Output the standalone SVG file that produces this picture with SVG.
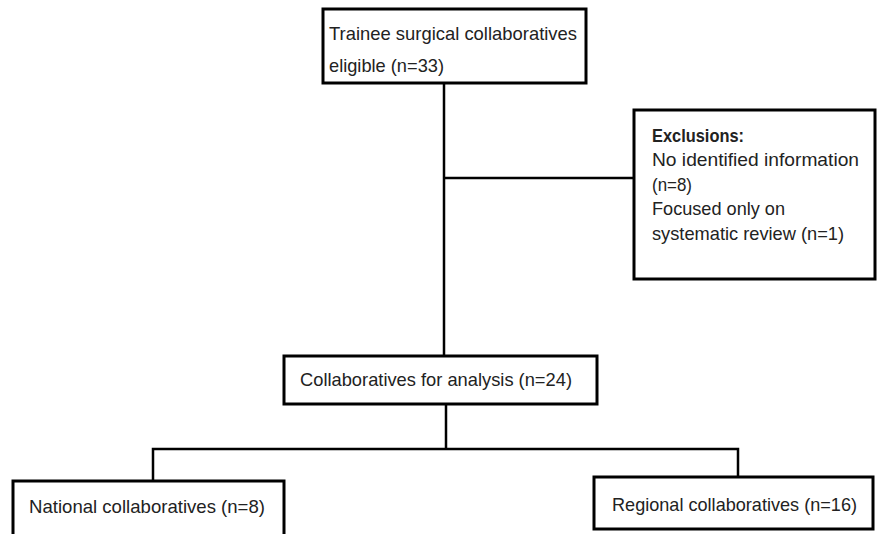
<svg xmlns="http://www.w3.org/2000/svg" width="880" height="534" viewBox="0 0 880 534">
<style>
.box{fill:#fff;stroke:#000;stroke-width:3}
.ln{fill:none;stroke:#000;stroke-width:2.5}
text{font-family:"Liberation Sans",Arial,sans-serif;font-size:19px;fill:#222}
.b{font-weight:bold;font-size:18px}
</style>
<rect width="880" height="534" fill="#fff"/>
<g id="connectors">
<line class="ln" x1="444" y1="83" x2="444" y2="356"/>
<line class="ln" x1="444" y1="178" x2="634" y2="178"/>
<line class="ln" x1="446" y1="404" x2="446" y2="449"/>
<polyline class="ln" points="153,481 153,449 738,449 738,477"/>
</g>
<g id="n1">
<rect class="box" x="323" y="9" width="263" height="74"/>
<text x="329" y="40" textLength="248" lengthAdjust="spacingAndGlyphs">Trainee surgical collaboratives</text>
<text x="329" y="72" textLength="115" lengthAdjust="spacingAndGlyphs">eligible (n=33)</text>
</g>
<g id="n2">
<rect class="box" x="634" y="110" width="241" height="169"/>
<text x="652" y="142" class="b" textLength="92" lengthAdjust="spacingAndGlyphs">Exclusions:</text>
<text x="652" y="166" textLength="207" lengthAdjust="spacingAndGlyphs">No identified information</text>
<text x="652" y="191" textLength="40" lengthAdjust="spacingAndGlyphs">(n=8)</text>
<text x="652" y="215" textLength="133" lengthAdjust="spacingAndGlyphs">Focused only on</text>
<text x="652" y="240" textLength="192" lengthAdjust="spacingAndGlyphs">systematic review (n=1)</text>
</g>
<g id="n3">
<rect class="box" x="284" y="356" width="313" height="48"/>
<text x="300" y="386" textLength="272" lengthAdjust="spacingAndGlyphs">Collaboratives for analysis (n=24)</text>
</g>
<g id="n4">
<rect class="box" x="13" y="481" width="271" height="60"/>
<text x="29" y="513" textLength="236" lengthAdjust="spacingAndGlyphs">National collaboratives (n=8)</text>
</g>
<g id="n5">
<rect class="box" x="594" y="477" width="279" height="52"/>
<text x="612" y="511" textLength="245" lengthAdjust="spacingAndGlyphs">Regional collaboratives (n=16)</text>
</g>
</svg>
